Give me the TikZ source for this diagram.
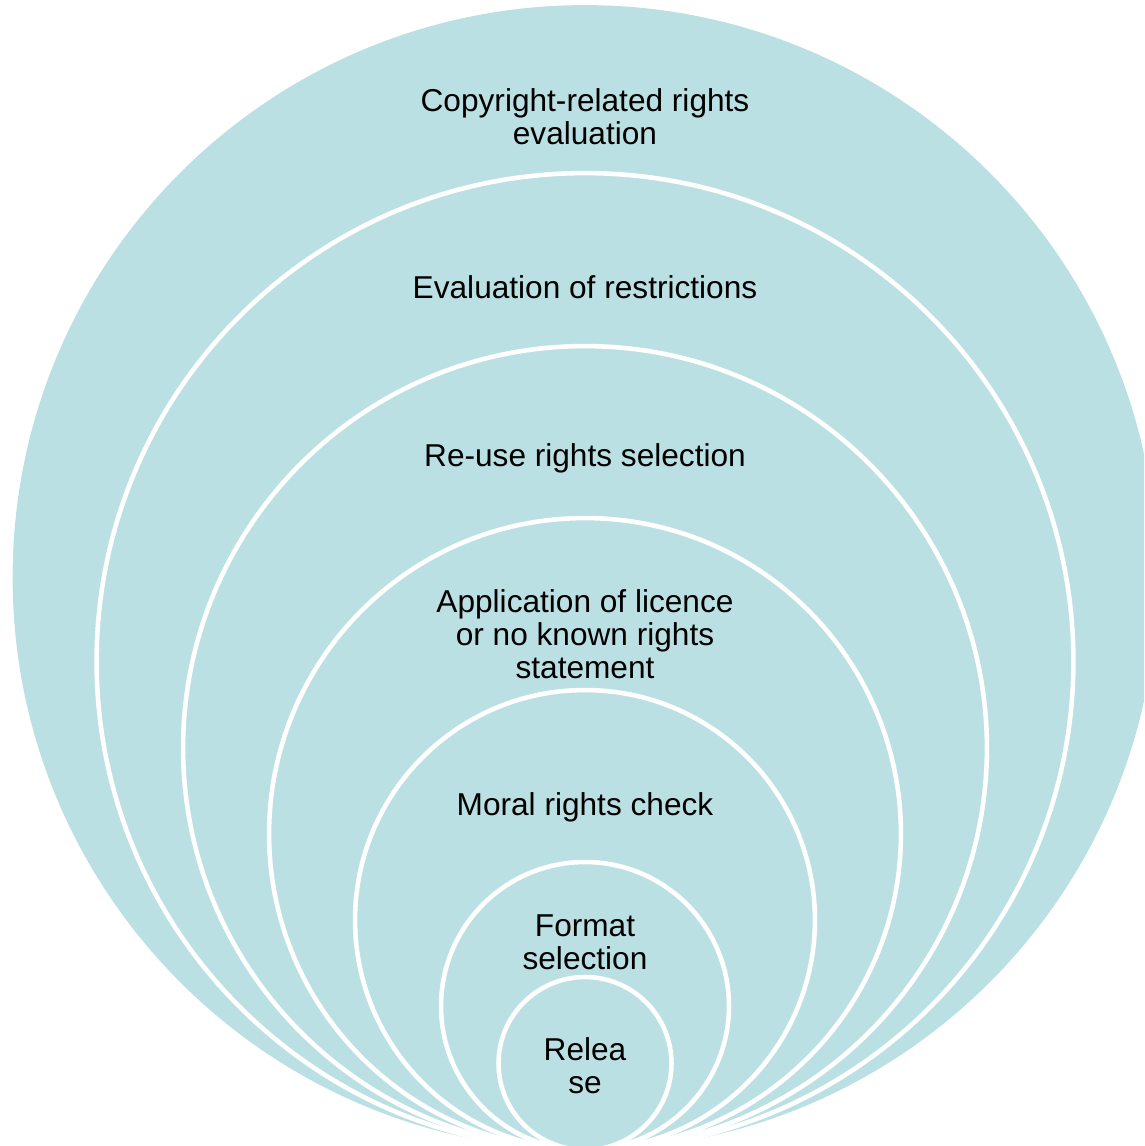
\documentclass[tikz,border=0pt]{standalone}
\usepackage{fontspec}
\setmainfont{Liberation Sans}
\definecolor{ringblue}{HTML}{BBE0E3}
\tikzset{
  ring/.style = {draw = white, line width = 2.6pt, fill = ringblue},
  lbl/.style = {align = center, inner sep = 0pt, font = \fontsize{18}{18.8}\selectfont}
}
\begin{document}
\begin{tikzpicture}[x = 0.02cm, y = -0.02cm]
    \useasboundingbox (0, 0) rectangle (1144, 1146);
    \clip (0, 0) rectangle (1144, 1146);
    \pgfmathsetmacro{\xc}{585};
    \pgfmathsetmacro{\yb}{1150};

    \draw [ring, draw = none] (\xc, \yb - 572.5) circle [radius = 11.45cm];
    \draw [ring] (\xc, \yb - 488.5) circle [radius = 9.77cm];
    \draw [ring] (\xc, \yb - 402) circle [radius = 8.04cm];
    \draw [ring] (\xc, \yb - 316) circle [radius = 6.32cm];
    \draw [ring] (\xc, \yb - 230) circle [radius = 4.6cm];
    \draw [ring] (\xc, \yb - 144) circle [radius = 2.88cm];
    \draw [ring] (\xc, \yb - 86.5) circle [radius = 1.73cm];

    \node (copy) [lbl] at (\xc, 117) {Copyright-related rights\\evaluation};
    \node (restr) [lbl] at (\xc, 287) {Evaluation of restrictions};
    \node (reuse) [lbl] at (\xc, 458) {Re-use rights selection};
    \node (licence) [lbl] at (\xc, 634) {Application of licence\\or no known rights\\statement};
    \node (moral) [lbl] at (\xc, 807) {Moral rights check};
    \node (format) [lbl] at (\xc, 942) {Format\\selection};
    \node (release) [lbl] at (\xc, 1066) {Relea\\se};
\end{tikzpicture}
\end{document}
